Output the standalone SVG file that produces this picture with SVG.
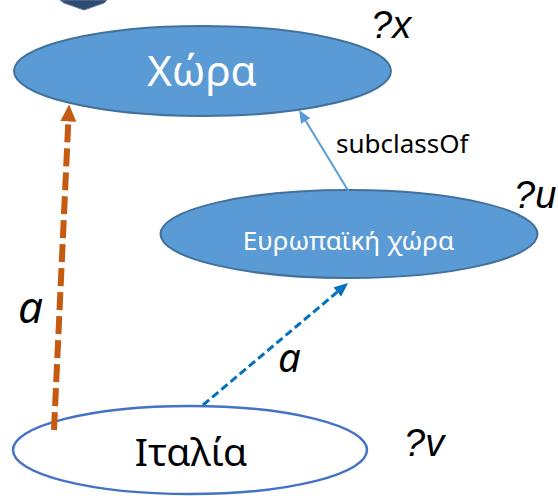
<svg xmlns="http://www.w3.org/2000/svg" width="558" height="496" viewBox="0 0 558 496">
  <style>
    .filled { fill: #5b9bd5; stroke: #41719c; stroke-width: 2; }
    .plain { fill: #ffffff; stroke: #4472c4; stroke-width: 2.5; }
    .lbl { font-family: "Noto Sans", "DejaVu Sans", sans-serif; text-anchor: middle; }
    .var { font-family: "Liberation Sans", Arial, sans-serif; font-style: italic; fill: #000; }
    .rel { font-family: "Noto Sans", "DejaVu Sans", sans-serif; font-style: italic; fill: #000; }
  </style>
  <defs>
    <marker id="ahOrange" markerUnits="userSpaceOnUse" markerWidth="17" markerHeight="17" refX="0" refY="8" orient="auto" viewBox="0 0 17 16">
      <path d="M0,0 L17,8 L0,16 z" fill="#c55a11"/>
    </marker>
    <marker id="ahBlue" markerUnits="userSpaceOnUse" markerWidth="14" markerHeight="12" refX="0" refY="6" orient="auto" viewBox="0 0 14 12">
      <path d="M0,0 L14,6 L0,12 z" fill="#0070c0"/>
    </marker>
    <marker id="ahLight" markerUnits="userSpaceOnUse" markerWidth="13" markerHeight="11" refX="0" refY="5.5" orient="auto" viewBox="0 0 13 11">
      <path d="M0,0 L13,5.5 L0,11 z" fill="#5b9bd5"/>
    </marker>
  </defs>

  <g id="corner-shape">
    <polygon points="60,0 107,0 104,3 84,10 64,3" fill="#2f4a70" stroke="#5d7ca6" stroke-width="1"/>
  </g>

  <g id="node-xora">
    <ellipse class="filled" cx="202.5" cy="71" rx="188.5" ry="45"/>
    <text class="lbl" x="202" y="86" font-size="42" fill="#ffffff">Χώρα</text>
  </g>

  <g id="node-evropaiki">
    <ellipse class="filled" cx="349" cy="234" rx="188.5" ry="44"/>
    <text class="lbl" x="348.5" y="250" font-size="26" fill="#ffffff">Ευρωπαϊκή χώρα</text>
  </g>

  <g id="node-italia">
    <ellipse class="plain" cx="190" cy="450" rx="177" ry="44"/>
    <text class="lbl" x="191" y="466" font-size="39" fill="#000000">Ιταλία</text>
  </g>

  <g id="variables">
    <text class="var" x="371" y="38" font-size="38">?x</text>
    <text class="var" x="514" y="208" font-size="38">?u</text>
    <text class="var" x="404" y="456" font-size="38">?v</text>
  </g>

  <g id="connectors">
    <line x1="54" y1="430" x2="68.3" y2="121.5" stroke="#c55a11" stroke-width="6" stroke-dasharray="18 6" marker-end="url(#ahOrange)"/>
    <line x1="203" y1="405" x2="337.3" y2="292" stroke="#0070c0" stroke-width="3" stroke-dasharray="8 4" marker-end="url(#ahBlue)"/>
    <line x1="349" y1="192" x2="305.8" y2="121.1" stroke="#5b9bd5" stroke-width="2" marker-end="url(#ahLight)"/>
    <text class="rel" x="18" y="323" font-size="44">a</text>
    <text class="rel" x="278" y="372" font-size="40">a</text>
    <text x="336" y="153" font-size="26" font-family="Noto Sans, DejaVu Sans, sans-serif" fill="#000">subclassOf</text>
  </g>
</svg>
